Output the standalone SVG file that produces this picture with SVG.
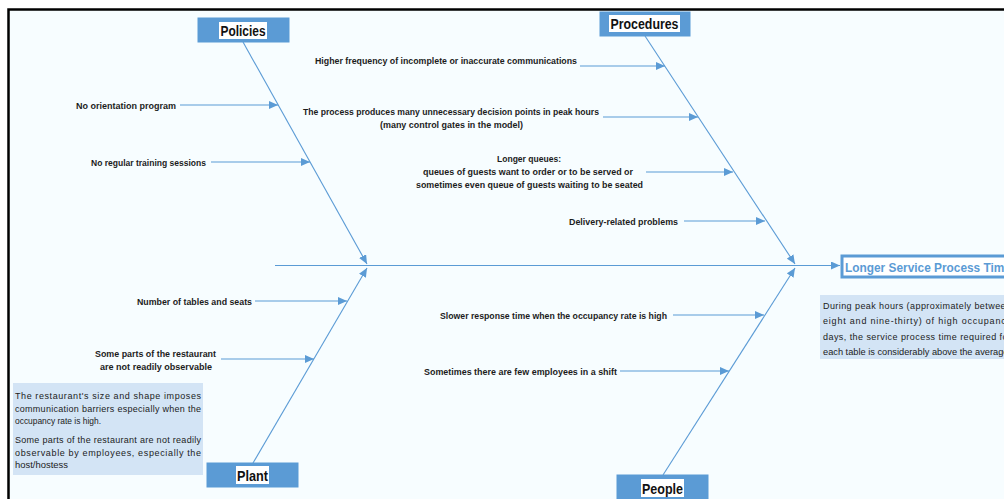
<svg xmlns="http://www.w3.org/2000/svg" width="1004" height="499" viewBox="0 0 1004 499">
  <style>
    .frame { fill: #f7fdff; stroke: #000; stroke-width: 2.5; }
    .cat-box { fill: #5b9bd5; stroke: #5b9bd5; stroke-width: 1; }
    .cat-bg { fill: #ffffff; }
    .cat-text { font-family: "Liberation Sans", Arial, sans-serif; font-weight: bold; font-size: 14px; fill: #111; }
    .label { font-family: "Liberation Sans", Arial, sans-serif; font-weight: bold; font-size: 9.3px; fill: #1c1c1c; }
    .note-box { fill: #d3e4f5; }
    .note { font-family: "Liberation Sans", Arial, sans-serif; font-size: 9px; fill: #1c1c1c; }
    .bone { stroke: #5b9bd5; stroke-width: 1.1; fill: none; }
    .effect-box { fill: #ffffff; stroke: #5b9bd5; stroke-width: 3; }
    .effect-text { font-family: "Liberation Sans", Arial, sans-serif; font-weight: bold; font-size: 13px; fill: #5b9bd5; }
  </style>
  <defs>
    <marker id="arrow" markerUnits="userSpaceOnUse" markerWidth="10" markerHeight="8" refX="9" refY="4" orient="auto">
      <path d="M0,0 L9,4 L0,8 Z" fill="#5b9bd5"/>
    </marker>
  </defs>

  <rect width="1004" height="499" fill="#ffffff"/>
  <rect class="frame" x="8.5" y="9.5" width="1010" height="500"/>

  <!-- connectors: spine, category bones and cause arrows -->
  <g id="connectors">
    <line class="bone" x1="275" y1="265.5" x2="840" y2="265.5" marker-end="url(#arrow)"/>
    <line class="bone" x1="243" y1="42" x2="367" y2="264" marker-end="url(#arrow)"/>
    <line class="bone" x1="645" y1="36" x2="795" y2="264" marker-end="url(#arrow)"/>
    <line class="bone" x1="253" y1="463" x2="367" y2="268" marker-end="url(#arrow)"/>
    <line class="bone" x1="663" y1="475" x2="795" y2="268" marker-end="url(#arrow)"/>

    <line class="bone" x1="180" y1="105" x2="278" y2="105" marker-end="url(#arrow)"/>
    <line class="bone" x1="211" y1="162" x2="310" y2="162" marker-end="url(#arrow)"/>
    <line class="bone" x1="580" y1="66" x2="665" y2="66" marker-end="url(#arrow)"/>
    <line class="bone" x1="603" y1="117" x2="698" y2="117" marker-end="url(#arrow)"/>
    <line class="bone" x1="646" y1="172" x2="733" y2="172" marker-end="url(#arrow)"/>
    <line class="bone" x1="684" y1="221" x2="765" y2="221" marker-end="url(#arrow)"/>
    <line class="bone" x1="255" y1="301" x2="347" y2="301" marker-end="url(#arrow)"/>
    <line class="bone" x1="221" y1="359" x2="314" y2="359" marker-end="url(#arrow)"/>
    <line class="bone" x1="673" y1="315" x2="764" y2="315" marker-end="url(#arrow)"/>
    <line class="bone" x1="620" y1="371" x2="729" y2="371" marker-end="url(#arrow)"/>
  </g>

  <!-- category headers -->
  <g id="policies">
    <rect class="cat-box" x="198" y="18" width="91" height="24"/>
    <rect class="cat-bg" x="219" y="22" width="48" height="17"/>
    <text class="cat-text" x="243" y="35.5" text-anchor="middle" textLength="45" lengthAdjust="spacingAndGlyphs">Policies</text>
  </g>
  <g id="procedures">
    <rect class="cat-box" x="600" y="12" width="90" height="24"/>
    <rect class="cat-bg" x="609" y="15" width="71" height="17"/>
    <text class="cat-text" x="644.5" y="28.5" text-anchor="middle" textLength="68" lengthAdjust="spacingAndGlyphs">Procedures</text>
  </g>
  <g id="plant">
    <rect class="cat-box" x="207" y="463" width="91" height="24"/>
    <rect class="cat-bg" x="236" y="466" width="33" height="18"/>
    <text class="cat-text" x="252.5" y="480.5" text-anchor="middle" textLength="31" lengthAdjust="spacingAndGlyphs">Plant</text>
  </g>
  <g id="people">
    <rect class="cat-box" x="617" y="475" width="91" height="30"/>
    <rect class="cat-bg" x="641" y="479" width="43" height="18"/>
    <text class="cat-text" x="662.5" y="493.5" text-anchor="middle" textLength="41" lengthAdjust="spacingAndGlyphs">People</text>
  </g>

  <!-- effect -->
  <g id="effect">
    <rect class="effect-box" x="842" y="256" width="200" height="21"/>
    <text class="effect-text" x="845" y="271.5" textLength="166" lengthAdjust="spacingAndGlyphs">Longer Service Process Time</text>
  </g>

  <!-- causes -->
  <g id="cause-orientation">
    <text class="label" x="176" y="108.5" text-anchor="end" textLength="100" lengthAdjust="spacingAndGlyphs">No orientation program</text>
  </g>
  <g id="cause-training">
    <text class="label" x="206" y="166" text-anchor="end" textLength="115" lengthAdjust="spacingAndGlyphs">No regular training sessions</text>
  </g>
  <g id="cause-communications">
    <text class="label" x="577" y="64" text-anchor="end" textLength="262" lengthAdjust="spacingAndGlyphs">Higher frequency of incomplete or inaccurate communications</text>
  </g>
  <g id="cause-decision-points">
    <text class="label" x="451" y="114.5" text-anchor="middle" textLength="296" lengthAdjust="spacingAndGlyphs">The process produces many unnecessary decision points in peak hours</text>
    <text class="label" x="451.5" y="127.5" text-anchor="middle" textLength="143" lengthAdjust="spacingAndGlyphs">(many control gates in the model)</text>
  </g>
  <g id="cause-queues">
    <text class="label" x="529" y="162" text-anchor="middle" textLength="64" lengthAdjust="spacingAndGlyphs">Longer queues:</text>
    <text class="label" x="528" y="175" text-anchor="middle" textLength="210" lengthAdjust="spacingAndGlyphs">queues  of guests want to order or to be served or</text>
    <text class="label" x="529.5" y="187.5" text-anchor="middle" textLength="227" lengthAdjust="spacingAndGlyphs">sometimes even queue of guests waiting to be seated</text>
  </g>
  <g id="cause-delivery">
    <text class="label" x="678" y="224.5" text-anchor="end" textLength="109" lengthAdjust="spacingAndGlyphs">Delivery-related problems</text>
  </g>
  <g id="cause-tables">
    <text class="label" x="252" y="304.5" text-anchor="end" textLength="115" lengthAdjust="spacingAndGlyphs">Number of tables and seats</text>
  </g>
  <g id="cause-observable">
    <text class="label" x="155.5" y="356.5" text-anchor="middle" textLength="121" lengthAdjust="spacingAndGlyphs">Some parts of the restaurant</text>
    <text class="label" x="156" y="369.5" text-anchor="middle" textLength="112" lengthAdjust="spacingAndGlyphs">are not readily observable</text>
  </g>
  <g id="cause-response">
    <text class="label" x="667" y="318.5" text-anchor="end" textLength="227" lengthAdjust="spacingAndGlyphs">Slower response time when the occupancy rate is high</text>
  </g>
  <g id="cause-staffing">
    <text class="label" x="617" y="374.5" text-anchor="end" textLength="193" lengthAdjust="spacingAndGlyphs">Sometimes there are few employees in a shift</text>
  </g>

  <!-- explanatory notes -->
  <g id="note-plant">
    <rect class="note-box" x="13" y="383" width="190" height="92"/>
    <text class="note" x="15" y="399" textLength="186" lengthAdjust="spacing">The restaurant's size and shape imposes</text>
    <text class="note" x="15" y="411.5" textLength="186" lengthAdjust="spacing">communication barriers especially when the</text>
    <text class="note" x="15" y="424" textLength="86" lengthAdjust="spacingAndGlyphs">occupancy rate is high.</text>
    <text class="note" x="15" y="443" textLength="186" lengthAdjust="spacing">Some parts of the restaurant are not readily</text>
    <text class="note" x="15" y="455.5" textLength="186" lengthAdjust="spacing">observable by employees, especially the</text>
    <text class="note" x="15" y="468" textLength="53" lengthAdjust="spacingAndGlyphs">host/hostess</text>
  </g>
  <g id="note-effect">
    <rect class="note-box" x="820" y="295" width="200" height="64"/>
    <text class="note" x="823" y="308.5" textLength="188" lengthAdjust="spacing">During peak hours (approximately between</text>
    <text class="note" x="823" y="324" textLength="188" lengthAdjust="spacing">eight and nine-thirty) of high occupancy</text>
    <text class="note" x="823" y="339.5" textLength="188" lengthAdjust="spacing">days, the service process time required for</text>
    <text class="note" x="823" y="354.5" textLength="188" lengthAdjust="spacingAndGlyphs">each table is considerably above the average.</text>
  </g>
</svg>
